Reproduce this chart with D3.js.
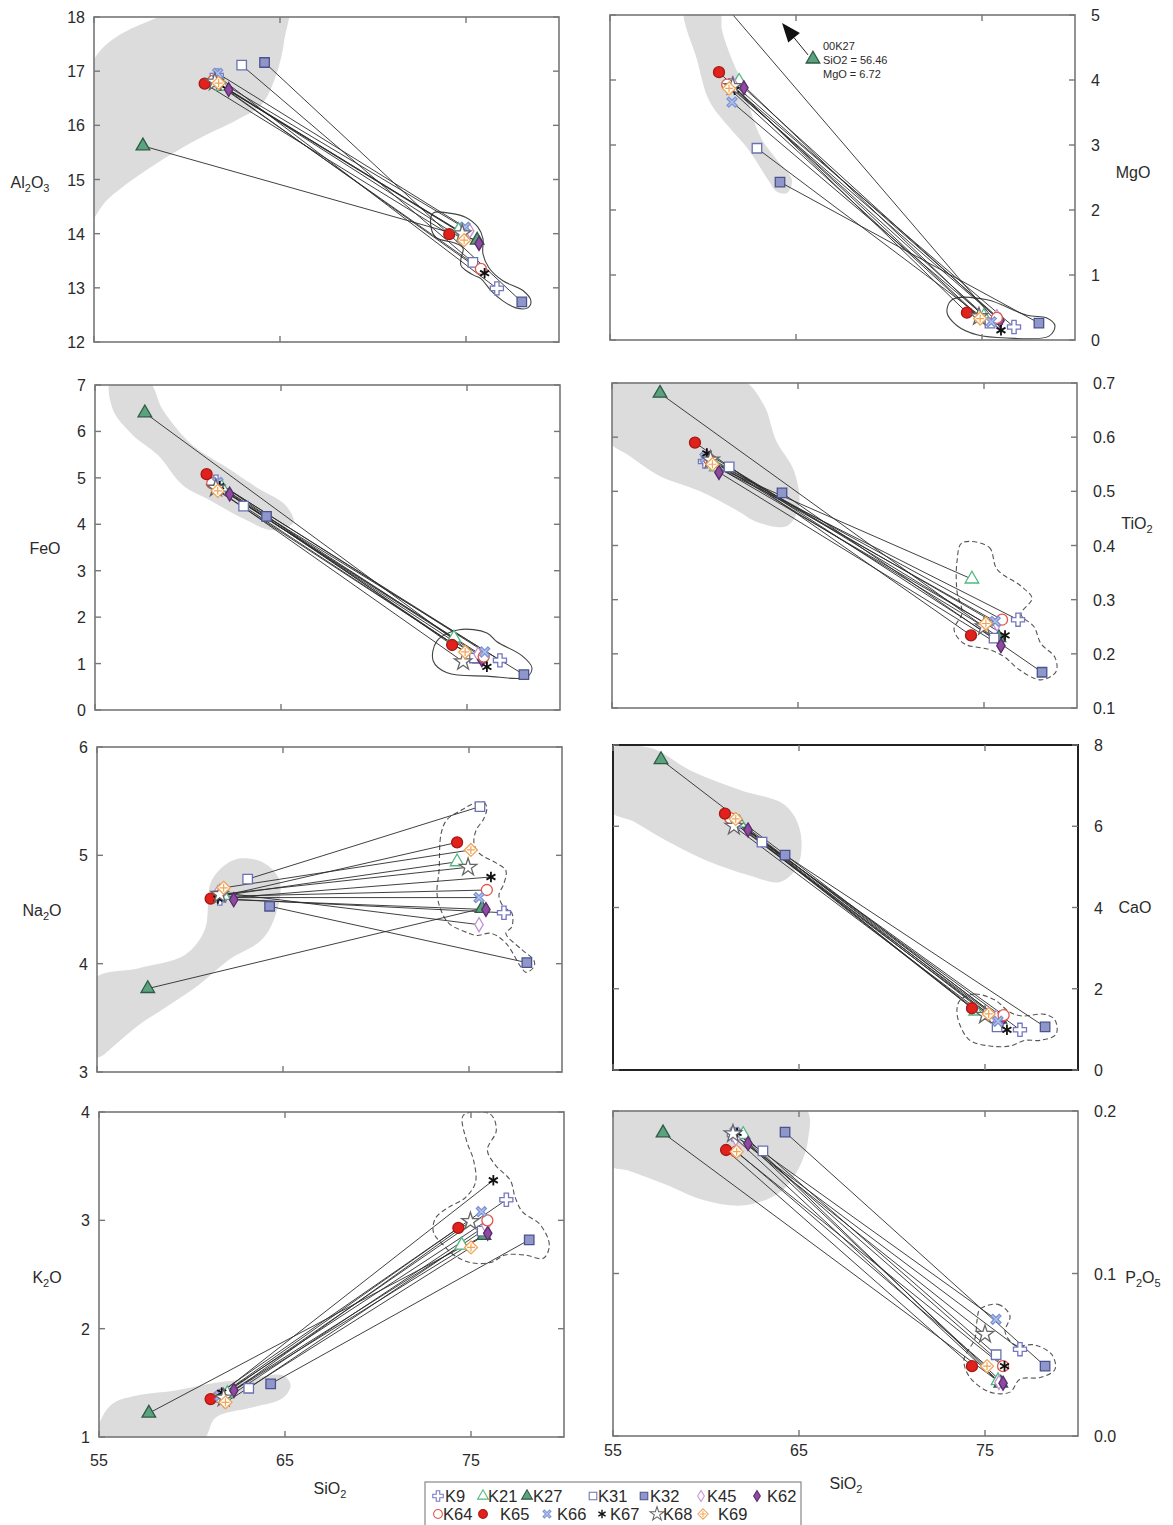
<!DOCTYPE html>
<html><head><meta charset="utf-8">
<script src="https://cdn.jsdelivr.net/npm/d3@7"></script>
<style>
body{margin:0;background:#fff;}
text{font-family:"Liberation Sans",Arial,Helvetica,sans-serif;fill:#2a2a2a;}
</style>
</head><body>
<svg id="chart" width="1173" height="1525"></svg>
<script>
// Samples: each has a mafic end-member and a felsic end-member, joined by a tie line.
const samples = ["K9","K21","K27","K31","K32","K45","K62","K64","K65","K66","K67","K68","K69"];

// [SiO2, oxide] pairs, same order as samples
const al2o3Mafic = [[61.6,16.92],[61.9,16.72],[57.63,15.62],[62.94,17.11],[64.17,17.16],[61.5,16.86],[62.24,16.66],[61.4,16.82],[60.95,16.77],[61.65,16.96],[61.8,16.74],[61.5,16.8],[61.7,16.78]];
const al2o3Felsic = [[76.66,12.99],[74.6,14.06],[75.6,13.88],[75.37,13.47],[78.0,12.74],[75.2,14.05],[75.7,13.82],[75.8,13.35],[74.1,13.99],[74.95,14.12],[76.0,13.27],[74.8,14.0],[74.9,13.88]];

const mgoMafic = [[61.5,3.92],[61.94,3.98],[56.46,6.72],[62.9,2.95],[64.14,2.43],[61.6,3.95],[62.2,3.88],[61.3,3.93],[60.86,4.12],[61.56,3.66],[61.7,3.85],[61.6,3.9],[61.4,3.87]];
const mgoFelsic = [[76.72,0.2],[75.1,0.36],[75.7,0.3],[75.43,0.26],[78.06,0.26],[75.8,0.36],[75.97,0.3],[75.8,0.34],[74.19,0.42],[75.5,0.28],[76.02,0.15],[74.84,0.36],[74.9,0.33]];

const feoMafic = [[61.5,4.92],[61.8,4.8],[57.68,6.4],[62.99,4.39],[64.22,4.17],[61.4,4.85],[62.24,4.65],[61.3,4.88],[61.0,5.08],[61.6,4.9],[61.7,4.82],[61.5,4.78],[61.6,4.72]];
const feoFelsic = [[76.77,1.07],[74.3,1.55],[75.7,1.1],[75.4,1.12],[78.06,0.76],[75.6,1.2],[75.8,1.08],[75.9,1.15],[74.2,1.4],[75.95,1.25],[76.07,0.93],[74.79,1.04],[74.9,1.25]];

const tio2Mafic = [[60.0,0.555],[60.6,0.545],[57.58,0.681],[61.3,0.545],[64.14,0.497],[60.1,0.565],[60.75,0.535],[60.2,0.56],[59.46,0.59],[60.0,0.562],[60.1,0.57],[60.3,0.558],[60.4,0.55]];
const tio2Felsic = [[76.83,0.263],[74.35,0.338],[75.8,0.23],[75.54,0.229],[78.12,0.166],[75.7,0.255],[75.91,0.215],[75.97,0.263],[74.3,0.234],[75.6,0.26],[76.13,0.234],[75.0,0.25],[75.1,0.256]];

const na2oMafic = [[61.6,4.6],[61.8,4.63],[57.73,3.77],[63.1,4.78],[64.28,4.53],[61.5,4.66],[62.35,4.59],[61.4,4.62],[61.11,4.6],[61.65,4.61],[61.5,4.6],[61.6,4.64],[61.81,4.70]];
const na2oFelsic = [[76.88,4.47],[74.36,4.94],[75.7,4.51],[75.59,5.45],[78.11,4.01],[75.54,4.36],[75.91,4.5],[75.96,4.68],[74.36,5.12],[75.54,4.61],[76.18,4.8],[74.95,4.89],[75.1,5.05]];

const caoMafic = [[61.5,6.15],[61.8,6.08],[57.58,7.64],[63.01,5.61],[64.25,5.29],[61.4,6.12],[62.26,5.91],[61.3,6.2],[61.02,6.31],[61.6,6.05],[61.7,6.1],[61.5,6.0],[61.6,6.18]];
const caoFelsic = [[76.88,0.99],[74.5,1.45],[75.8,1.25],[75.65,1.06],[78.23,1.06],[75.6,1.3],[75.91,1.23],[76.0,1.35],[74.3,1.52],[75.7,1.2],[76.18,0.99],[75.0,1.35],[75.2,1.38]];

const k2oMafic = [[61.6,1.38],[61.9,1.4],[57.68,1.22],[63.05,1.45],[64.23,1.49],[61.7,1.34],[62.25,1.43],[61.4,1.37],[61.0,1.35],[61.5,1.38],[61.6,1.41],[61.7,1.36],[61.8,1.32]];
const k2oFelsic = [[76.9,3.19],[74.5,2.77],[75.7,2.86],[75.6,2.9],[78.13,2.82],[75.8,2.95],[75.9,2.88],[75.88,3.0],[74.32,2.93],[75.56,3.08],[76.2,3.37],[74.97,2.99],[75.0,2.75]];

const p2o5Mafic = [[61.5,0.1855],[62.0,0.1855],[57.69,0.1865],[63.06,0.1755],[64.25,0.187],[61.6,0.183],[62.26,0.18],[61.6,0.175],[61.08,0.176],[61.55,0.187],[61.67,0.1865],[61.45,0.186],[61.65,0.175]];
const p2o5Felsic = [[76.88,0.0534],[75.7,0.034],[75.85,0.0325],[75.6,0.05],[78.23,0.043],[75.75,0.033],[75.97,0.0325],[75.97,0.043],[74.3,0.043],[75.59,0.0718],[76.05,0.043],[75.0,0.0626],[75.11,0.043]];

// Grey fields (intermediate compositions) and outlined fields (rhyolitic compositions)
const al2o3Field = [[54.9,17.16],[58.2,17.96],[65.35,18.3],[65.24,17.59],[64.8,16.94],[64.0,16.38],[62.67,16.1],[60.5,15.73],[57.84,15.18],[55.7,14.62],[54.7,14.2]];
const al2o3Outline = [[73.23,14.38],[74.09,14.38],[75.0,14.30],[75.64,14.12],[75.91,13.91],[75.91,13.63],[76.23,13.37],[76.98,13.13],[78.06,12.95],[78.49,12.76],[78.32,12.63],[77.68,12.63],[76.98,12.76],[76.34,12.95],[75.8,13.17],[75.43,13.23],[75.0,13.32],[74.73,13.41],[74.73,13.54],[74.84,13.73],[74.46,13.82],[73.39,13.93],[73.12,14.12]];

const mgoField = [[59.03,5.1],[59.68,4.31],[60.32,3.69],[61.29,3.31],[62.47,2.92],[63.44,2.49],[63.98,2.28],[64.52,2.26],[64.78,2.46],[63.98,2.77],[63.17,3.08],[62.63,3.46],[62.26,3.85],[61.56,4.31],[61.02,4.77],[60.86,5.1]];
const mgoOutline = [[73.39,0.62],[75.27,0.62],[77.42,0.38],[78.49,0.34],[78.92,0.22],[78.6,0.06],[76.34,0.03],[74.73,0.08],[73.66,0.22],[73.12,0.42]];

const feoField = [[55.86,7.1],[57.84,7.1],[58.65,6.46],[60.25,5.7],[62.13,5.21],[63.74,4.78],[65.24,4.41],[65.67,4.04],[64.54,3.87],[62.94,4.13],[61.17,4.52],[59.72,4.84],[58.38,5.49],[57.04,5.92],[55.97,6.46]];
const feoOutline = [[73.39,1.49],[74.57,1.73],[76.07,1.66],[76.61,1.47],[77.95,1.17],[78.49,0.91],[78.22,0.71],[76.07,0.73],[73.93,0.8],[73.18,1.06]];

const tio2Field = [[54.8,0.71],[61.83,0.71],[63.17,0.659],[63.82,0.594],[64.78,0.538],[65.05,0.473],[64.41,0.436],[62.9,0.442],[61.56,0.468],[59.68,0.501],[57.53,0.529],[55.91,0.566],[54.8,0.594]];
const tio2Outline = [[73.82,0.405],[75.27,0.397],[75.7,0.356],[76.99,0.325],[77.58,0.302],[76.99,0.273],[77.69,0.25],[78.06,0.219],[78.82,0.193],[78.87,0.167],[78.06,0.152],[76.88,0.171],[76.08,0.195],[75.27,0.208],[73.92,0.219],[73.39,0.245],[73.82,0.275],[73.55,0.315],[73.55,0.371]];

const na2oField = [[54.8,3.85],[57.3,3.96],[59.72,4.08],[60.79,4.31],[61.17,4.77],[62.4,4.96],[63.85,4.94],[64.81,4.77],[64.6,4.45],[63.85,4.22],[62.13,4.04],[60.52,3.81],[58.91,3.62],[57.3,3.44],[55.97,3.25],[55.16,3.14],[54.8,3.14]];
const na2oOutline = [[75.27,5.48],[75.8,5.49],[75.96,5.44],[75.8,5.34],[75.38,5.23],[75.27,5.11],[75.54,5.02],[76.45,4.93],[76.98,4.86],[76.88,4.74],[76.61,4.63],[76.88,4.52],[77.3,4.47],[77.3,4.34],[76.98,4.28],[77.84,4.13],[78.49,4.03],[78.49,3.97],[78.06,3.92],[77.79,3.97],[76.98,4.19],[76.18,4.28],[75.43,4.26],[75.0,4.28],[73.93,4.37],[73.5,4.49],[73.28,4.65],[73.39,4.86],[73.5,5.2],[73.82,5.33],[74.62,5.42]];

const caoField = [[54.8,7.88],[56.99,7.93],[59.14,7.38],[61.83,6.89],[64.25,6.52],[65.05,5.91],[64.95,5.04],[63.98,4.63],[62.26,4.8],[59.95,5.17],[57.8,5.66],[56.18,6.1],[54.8,6.4]];
const caoOutline = [[73.66,1.72],[74.46,1.87],[75.54,1.72],[76.34,1.42],[76.99,1.33],[78.23,1.37],[78.76,1.23],[78.82,0.88],[77.96,0.73],[77.15,0.73],[76.34,0.59],[75.27,0.59],[74.19,0.73],[73.66,1.1],[73.49,1.47]];

const k2oField = [[54.8,0.95],[55.1,1.16],[55.75,1.31],[57.25,1.39],[59.13,1.43],[61.28,1.5],[63.16,1.54],[64.88,1.57],[65.3,1.48],[64.88,1.36],[63.16,1.27],[61.28,1.18],[60.47,0.95]];
const k2oOutline = [[74.59,3.97],[76.04,3.98],[76.36,3.83],[75.88,3.65],[76.31,3.51],[77.11,3.37],[77.38,3.21],[77.76,3.08],[78.72,2.96],[79.21,2.77],[78.89,2.65],[77.92,2.68],[76.85,2.68],[76.04,2.61],[74.97,2.61],[74.16,2.67],[73.52,2.77],[72.98,2.89],[73.09,3.02],[73.79,3.12],[74.7,3.21],[75.24,3.35],[75.13,3.56],[74.75,3.74]];

const p2o5Field = [[54.8,0.202],[65.32,0.202],[65.48,0.182],[64.95,0.164],[63.98,0.150],[62.1,0.142],[59.95,0.145],[57.8,0.155],[55.91,0.163],[54.8,0.167]];
const p2o5Outline = [[74.73,0.078],[75.7,0.081],[76.34,0.074],[76.08,0.064],[76.61,0.056],[77.69,0.056],[78.6,0.05],[78.76,0.041],[77.96,0.036],[76.88,0.035],[76.34,0.027],[75.27,0.027],[74.19,0.036],[73.87,0.047],[74.46,0.06],[74.57,0.071]];

// Tick values
const sio2Ticks = [55, 65, 75];
const al2o3Ticks = [12,13,14,15,16,17,18];
const mgoTicks = [0,1,2,3,4,5];
const feoTicks = [0,1,2,3,4,5,6,7];
const tio2Ticks = [0.1,0.2,0.3,0.4,0.5,0.6,0.7];
const na2oTicks = [3,4,5,6];
const caoTicks = [0,2,4,6,8];
const k2oTicks = [1,2,3,4];
const p2o5Ticks = [0.0,0.1,0.2];

// Off-scale analysis noted in the MgO plot
const mgoNote = {name:"00K27", sio2:56.46, mgo:6.72};

const svg = d3.select("#chart");
const W = 465, H = 325;

const panels = [
  {id:"al2o3", side:"L", x0:94, y0:17, dom:[12,18], ticks:al2o3Ticks, fmt:d3.format("d"), mafic:al2o3Mafic, felsic:al2o3Felsic, field:al2o3Field, outline:al2o3Outline, dash:false, title:[["Al",0],["2",1],["O",0],["3",1]], tpos:[30,188]},
  {id:"mgo", side:"R", x0:610, y0:15, dom:[0,5], ticks:mgoTicks, fmt:d3.format("d"), mafic:mgoMafic, felsic:mgoFelsic, field:mgoField, outline:mgoOutline, dash:false, title:[["MgO",0]], tpos:[1133,178]},
  {id:"feo", side:"L", x0:95, y0:385, dom:[0,7], ticks:feoTicks, fmt:d3.format("d"), mafic:feoMafic, felsic:feoFelsic, field:feoField, outline:feoOutline, dash:false, title:[["FeO",0]], tpos:[45,554]},
  {id:"tio2", side:"R", x0:612, y0:383, dom:[0.1,0.7], ticks:tio2Ticks, fmt:d3.format(".1f"), mafic:tio2Mafic, felsic:tio2Felsic, field:tio2Field, outline:tio2Outline, dash:true, title:[["TiO",0],["2",1]], tpos:[1137,529]},
  {id:"na2o", side:"L", x0:97, y0:747, dom:[3,6], ticks:na2oTicks, fmt:d3.format("d"), mafic:na2oMafic, felsic:na2oFelsic, field:na2oField, outline:na2oOutline, dash:true, title:[["Na",0],["2",1],["O",0]], tpos:[42,916]},
  {id:"cao", side:"R", x0:613, y0:745, dom:[0,8], ticks:caoTicks, fmt:d3.format("d"), mafic:caoMafic, felsic:caoFelsic, field:caoField, outline:caoOutline, dash:true, title:[["CaO",0]], tpos:[1135,913], frame:true},
  {id:"k2o", side:"L", x0:99, y0:1112, dom:[1,4], ticks:k2oTicks, fmt:d3.format("d"), mafic:k2oMafic, felsic:k2oFelsic, field:k2oField, outline:k2oOutline, dash:true, title:[["K",0],["2",1],["O",0]], tpos:[47,1283]},
  {id:"p2o5", side:"R", x0:613, y0:1111, dom:[0,0.2], ticks:p2o5Ticks, fmt:d3.format(".1f"), mafic:p2o5Mafic, felsic:p2o5Felsic, field:p2o5Field, outline:p2o5Outline, dash:true, title:[["P",0],["2",1],["O",0],["5",1]], tpos:[1143,1283]}
];

// Marker styles per sample
const style = {
  K9:  {shape:"cross",   fill:"#fff",    stroke:"#7478c0"},
  K21: {shape:"tri",     fill:"#fff",    stroke:"#4fb880"},
  K27: {shape:"tri",     fill:"#5aa37e", stroke:"#2f5a44"},
  K31: {shape:"square",  fill:"#fff",    stroke:"#6a70b4"},
  K32: {shape:"square",  fill:"#8f97c9", stroke:"#4b5290"},
  K45: {shape:"diamond", fill:"#fff",    stroke:"#c493d6"},
  K62: {shape:"diamond", fill:"#8d4b9f", stroke:"#5a2a6c"},
  K64: {shape:"circle",  fill:"#fff",    stroke:"#e2574a"},
  K65: {shape:"circle",  fill:"#e3211c", stroke:"#a31a16"},
  K66: {shape:"x",       fill:"#b4c3ec", stroke:"#7d94d4"},
  K67: {shape:"asterisk",fill:"none",    stroke:"#111"},
  K68: {shape:"star",    fill:"#fff",    stroke:"#666"},
  K69: {shape:"dcross",  fill:"#fff",    stroke:"#f0a455"}
};

function markerPath(shape){
  switch(shape){
    case "circle": return d3.symbol(d3.symbolCircle, 95)();
    case "square": return d3.symbol(d3.symbolSquare, 90)();
    case "tri": return d3.symbol(d3.symbolTriangle, 80)();
    case "cross": return d3.symbol(d3.symbolCross, 95)();
    case "star": return d3.symbol(d3.symbolStar, 95)();
    case "diamond": return "M0,-7L4.2,0L0,7L-4.2,0Z";
    case "x": return "M-5,-3.2L-3.2,-5L0,-1.8L3.2,-5L5,-3.2L1.8,0L5,3.2L3.2,5L0,1.8L-3.2,5L-5,3.2L-1.8,0Z";
    case "dcross": return "M0,-6.5L6.5,0L0,6.5L-6.5,0Z";
  }
  return null;
}

function drawMarker(g, name, x, y){
  const s = style[name];
  const m = g.append("g").attr("transform", `translate(${x},${y})`);
  if (s.shape === "asterisk"){
    [0,60,120].forEach(a=>{
      const r = 5.2, t = a*Math.PI/180;
      m.append("line").attr("x1",-r*Math.sin(t)).attr("y1",-r*Math.cos(t))
        .attr("x2",r*Math.sin(t)).attr("y2",r*Math.cos(t))
        .attr("stroke",s.stroke).attr("stroke-width",1.8);
    });
    return;
  }
  m.append("path").attr("d", markerPath(s.shape))
    .attr("fill", s.fill).attr("stroke", s.stroke).attr("stroke-width", 1.3);
  if (s.shape === "dcross"){
    m.append("path").attr("d","M-4,0H4M0,-4V4").attr("stroke",s.stroke).attr("stroke-width",1.2);
  }
}

const axisColor = "#777";

panels.forEach((p,i)=>{
  const x = d3.scaleLinear().domain([55,80]).range([p.x0, p.x0+W]);
  const y = d3.scaleLinear().domain(p.dom).range([p.y0+H, p.y0]);
  const g = svg.append("g").attr("class","panel-"+p.id);

  const clipId = "clip-"+p.id;
  svg.append("clipPath").attr("id",clipId).append("rect")
    .attr("x",p.x0).attr("y",p.y0).attr("width",W).attr("height",H);
  const plot = g.append("g").attr("clip-path",`url(#${clipId})`);

  const area = d3.line().x(d=>x(d[0])).y(d=>y(d[1])).curve(d3.curveCatmullRomClosed.alpha(0.5));

  plot.append("path").attr("d", area(p.field)).attr("fill","#dcdcdc").attr("stroke","none");
  plot.append("path").attr("d", area(p.outline)).attr("fill","none")
    .attr("stroke", p.dash ? "#555" : "#444").attr("stroke-width",1.1)
    .attr("stroke-dasharray", p.dash ? "5,3" : null);

  // tie lines
  samples.forEach((s,k)=>{
    plot.append("line")
      .attr("x1",x(p.mafic[k][0])).attr("y1",y(p.mafic[k][1]))
      .attr("x2",x(p.felsic[k][0])).attr("y2",y(p.felsic[k][1]))
      .attr("stroke","#2b2b2b").attr("stroke-width",0.9);
  });
  // markers (felsic then mafic)
  samples.forEach((s,k)=>drawMarker(plot, s, x(p.felsic[k][0]), y(p.felsic[k][1])));
  samples.forEach((s,k)=>drawMarker(plot, s, x(p.mafic[k][0]), y(p.mafic[k][1])));

  // frame
  g.append("rect").attr("x",p.x0).attr("y",p.y0).attr("width",W).attr("height",H)
    .attr("fill","none").attr("stroke", p.frame ? "#222" : axisColor).attr("stroke-width", p.frame ? 2 : 1.6);

  // inward ticks on both vertical edges
  const tl = 6;
  p.ticks.forEach(t=>{
    g.append("line").attr("x1",p.x0).attr("x2",p.x0+tl).attr("y1",y(t)).attr("y2",y(t)).attr("stroke",axisColor).attr("stroke-width",1.4);
    g.append("line").attr("x1",p.x0+W-tl).attr("x2",p.x0+W).attr("y1",y(t)).attr("y2",y(t)).attr("stroke",axisColor).attr("stroke-width",1.4);
  });
  sio2Ticks.forEach(t=>{
    g.append("line").attr("x1",x(t)).attr("x2",x(t)).attr("y1",p.y0+H).attr("y2",p.y0+H-tl).attr("stroke",axisColor).attr("stroke-width",1.4);
    g.append("line").attr("x1",x(t)).attr("x2",x(t)).attr("y1",p.y0).attr("y2",p.y0+tl).attr("stroke",axisColor).attr("stroke-width",1.4);
  });

  // tick labels
  p.ticks.forEach(t=>{
    const lbl = g.append("text").attr("y",y(t)+6).attr("font-size",16).text(p.fmt(t));
    if (p.side==="L") lbl.attr("x",p.x0-9).attr("text-anchor","end");
    else lbl.attr("x",p.x0+W+16).attr("text-anchor","start");
  });

  // axis title with subscripts
  const tt = g.append("text").attr("x",p.tpos[0]).attr("y",p.tpos[1]).attr("font-size",16).attr("text-anchor","middle");
  let sub = false;
  p.title.forEach(([str,isSub])=>{
    const ts = tt.append("tspan").text(str);
    if (isSub && !sub){ ts.attr("font-size",11).attr("dy",4); sub = true; }
    else if (!isSub && sub){ ts.attr("dy",-4); sub = false; }
    else if (isSub) ts.attr("font-size",11);
  });

  // SiO2 labels on bottom row
  if (i >= 6){
    const by = p.side==="L" ? 1466 : 1456;
    sio2Ticks.forEach(t=>{
      g.append("text").attr("x",x(t)).attr("y",by).attr("font-size",16).attr("text-anchor","middle").text(t);
    });
    const st = g.append("text").attr("x", p.side==="L"?330:846).attr("y", p.side==="L"?1494:1489)
      .attr("font-size",16).attr("text-anchor","middle");
    st.append("tspan").text("SiO");
    st.append("tspan").text("2").attr("font-size",11).attr("dy",4);
  }

  // note for the off-scale MgO analysis
  if (p.id==="mgo"){
    const ax = x(mgoNote.sio2 + 7.79), ay = y(4.877);
    const bx = x(mgoNote.sio2 + 9.19), by = y(4.385);
    const ang = Math.atan2(ay-by, ax-bx);
    const hl = 19, hw = 7.5;
    const bxh = ax - hl*Math.cos(ang), byh = ay - hl*Math.sin(ang);
    g.append("line").attr("x1",bx).attr("y1",by).attr("x2",bxh).attr("y2",byh).attr("stroke","#222").attr("stroke-width",1);
    const p1 = [bxh + hw*Math.sin(ang), byh - hw*Math.cos(ang)];
    const p2 = [bxh - hw*Math.sin(ang), byh + hw*Math.cos(ang)];
    g.append("path").attr("d",`M${ax},${ay}L${p1[0]},${p1[1]}L${p2[0]},${p2[1]}Z`).attr("fill","#111");
    const tx = x(mgoNote.sio2 + 9.99), ty = y(4.46);
    drawMarker(g, "K27", tx-10, ty+9);
    const note = g.append("text").attr("x",tx).attr("y",ty).attr("font-size",11);
    note.append("tspan").attr("x",tx).attr("dy",0).text(mgoNote.name);
    note.append("tspan").attr("x",tx).attr("dy",14).text("SiO2 = " + mgoNote.sio2.toFixed(2));
    note.append("tspan").attr("x",tx).attr("dy",14).text("MgO = " + mgoNote.mgo.toFixed(2));
  }
});

// Legend
const legRows = [
  [["K9",438,445],["K21",483,488],["K27",527,533],["K31",593,598],["K32",644,650],["K45",701,707],["K62",757,767]],
  [["K64",438,443],["K65",483,500],["K66",547,557],["K67",602,610],["K68",657,663],["K69",703,718]]
];
svg.append("rect").attr("x",425).attr("y",1482).attr("width",376).attr("height",44)
  .attr("fill","#fff").attr("stroke","#888").attr("stroke-width",1.2);
legRows.forEach((row,r)=>{
  const ly = 1496 + r*18;
  row.forEach(([name,sx,tx])=>{
    const lg = svg.append("g").attr("transform",`translate(${sx},${ly}) scale(0.8) translate(${-sx},${-ly})`);
    drawMarker(lg, name, sx, ly);
    svg.append("text").attr("x",tx).attr("y",ly+6).attr("font-size",16.5).text(name);
  });
});
</script>
</body></html>
